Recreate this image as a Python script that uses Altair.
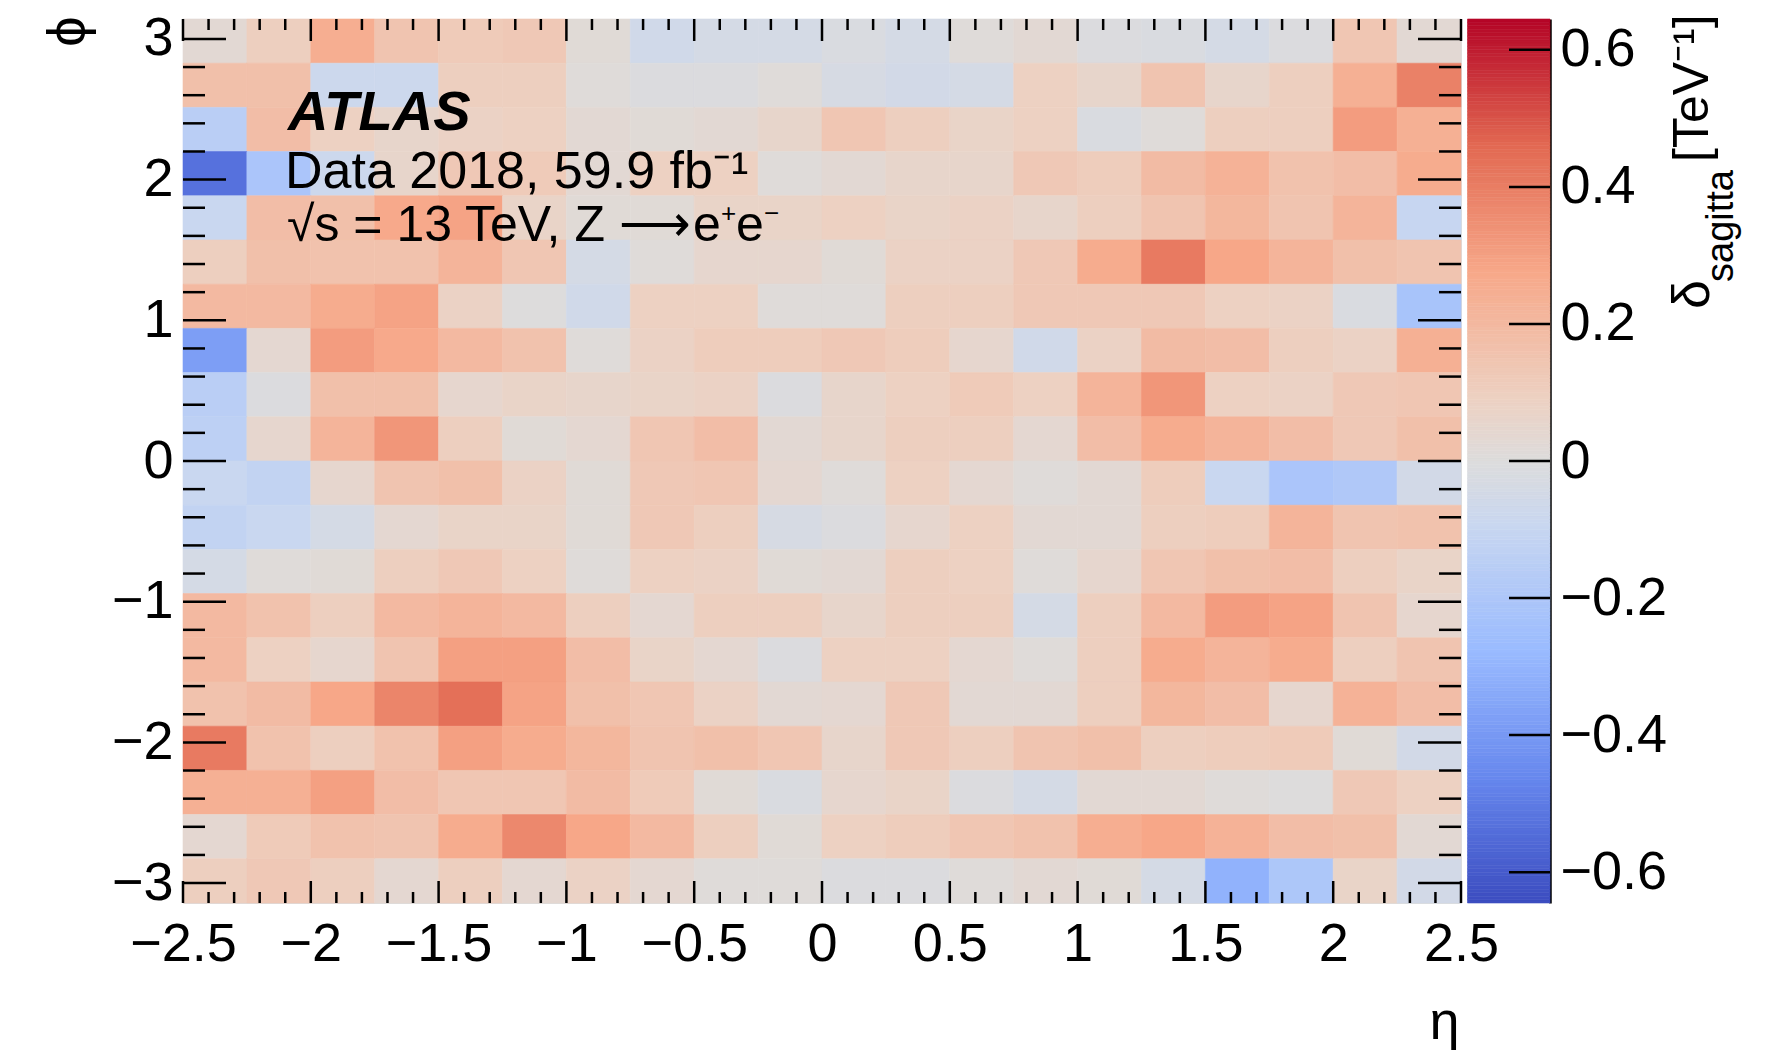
import altair as alt
import numpy as np
import pandas as pd

# ---------------- data ----------------
# eta bin edges (20 bins of 0.25) and phi bins (20 bins over [-pi, pi])
eta_edges = [-2.5, -2.25, -2.0, -1.75, -1.5, -1.25, -1.0, -0.75, -0.5, -0.25,
             0.0, 0.25, 0.5, 0.75, 1.0, 1.25, 1.5, 1.75, 2.0, 2.25, 2.5]
n_phi = 20

# delta_sagitta [TeV^-1]; rows listed from top (phi ~ +pi) to bottom (phi ~ -pi)
r00 = [0.03, 0.10, 0.25, 0.15, 0.12, 0.13, 0.02, -0.06, -0.04, -0.04, -0.02, -0.04, 0.01, 0.03, -0.01, -0.02, -0.04, -0.01, 0.14, 0.03]
r01 = [0.17, 0.17, -0.08, -0.08, 0.10, 0.10, 0.01, -0.01, -0.01, 0.01, -0.03, -0.05, -0.04, 0.09, 0.06, 0.15, 0.06, 0.10, 0.24, 0.39]
r02 = [-0.15, 0.18, 0.09, 0.06, 0.08, 0.09, 0.03, 0.02, 0.03, 0.06, 0.14, 0.10, 0.07, 0.09, -0.02, 0.01, 0.10, 0.10, 0.31, 0.24]
r03 = [-0.53, -0.21, -0.08, 0.06, 0.13, 0.12, 0.03, 0.09, 0.09, 0.01, 0.03, 0.06, 0.06, 0.13, 0.11, 0.19, 0.23, 0.16, 0.18, 0.26]
r04 = [-0.09, 0.18, 0.17, 0.27, 0.29, 0.07, 0.02, 0.02, 0.07, 0.07, 0.09, 0.07, 0.08, 0.06, 0.10, 0.15, 0.21, 0.15, 0.22, -0.10]
r05 = [0.10, 0.17, 0.16, 0.16, 0.22, 0.14, -0.04, 0.01, 0.05, 0.05, 0.02, 0.08, 0.08, 0.13, 0.26, 0.41, 0.28, 0.22, 0.17, 0.15]
r06 = [0.20, 0.20, 0.26, 0.29, 0.08, 0.00, -0.06, 0.09, 0.09, 0.01, 0.01, 0.10, 0.10, 0.13, 0.13, 0.13, 0.09, 0.08, -0.02, -0.22]
r07 = [-0.38, 0.04, 0.31, 0.27, 0.20, 0.16, 0.01, 0.08, 0.11, 0.11, 0.13, 0.11, 0.05, -0.06, 0.08, 0.19, 0.18, 0.10, 0.08, 0.24]
r08 = [-0.15, -0.01, 0.17, 0.17, 0.05, 0.07, 0.06, 0.07, 0.08, -0.01, 0.06, 0.09, 0.12, 0.09, 0.22, 0.33, 0.09, 0.08, 0.13, 0.14]
r09 = [-0.14, 0.05, 0.22, 0.33, 0.10, 0.02, 0.04, 0.14, 0.18, 0.03, 0.06, 0.10, 0.10, 0.04, 0.18, 0.26, 0.22, 0.18, 0.13, 0.17]
r10 = [-0.09, -0.12, 0.05, 0.15, 0.17, 0.08, 0.02, 0.13, 0.14, 0.04, 0.01, 0.09, 0.04, 0.01, 0.03, 0.11, -0.09, -0.21, -0.19, -0.05]
r11 = [-0.12, -0.09, -0.04, 0.04, 0.07, 0.07, 0.02, 0.13, 0.10, -0.03, -0.01, 0.05, 0.09, 0.03, 0.03, 0.10, 0.11, 0.22, 0.15, 0.16]
r12 = [-0.04, 0.01, 0.02, 0.10, 0.13, 0.09, 0.01, 0.09, 0.08, 0.02, 0.03, 0.10, 0.09, 0.01, 0.05, 0.14, 0.17, 0.18, 0.10, 0.07]
r13 = [0.20, 0.16, 0.10, 0.20, 0.22, 0.20, 0.10, 0.04, 0.10, 0.10, 0.06, 0.10, 0.10, -0.04, 0.10, 0.20, 0.31, 0.29, 0.15, 0.05]
r14 = [0.20, 0.09, 0.05, 0.15, 0.30, 0.30, 0.18, 0.07, 0.04, -0.01, 0.09, 0.09, 0.04, 0.01, 0.10, 0.26, 0.22, 0.26, 0.10, 0.15]
r15 = [0.16, 0.19, 0.28, 0.38, 0.44, 0.29, 0.17, 0.14, 0.08, 0.03, 0.04, 0.13, 0.03, 0.03, 0.10, 0.21, 0.18, 0.05, 0.23, 0.18]
r16 = [0.41, 0.16, 0.10, 0.16, 0.30, 0.26, 0.21, 0.15, 0.17, 0.14, 0.06, 0.13, 0.10, 0.15, 0.17, 0.10, 0.11, 0.12, 0.02, -0.05]
r17 = [0.24, 0.24, 0.30, 0.18, 0.14, 0.14, 0.19, 0.12, 0.02, -0.02, 0.05, 0.07, -0.01, -0.04, 0.03, 0.03, 0.01, 0.00, 0.13, 0.09]
r18 = [0.04, 0.12, 0.16, 0.15, 0.26, 0.37, 0.28, 0.20, 0.10, 0.02, 0.09, 0.11, 0.14, 0.16, 0.25, 0.28, 0.23, 0.18, 0.17, 0.03]
r19 = [0.10, 0.13, 0.10, 0.04, 0.10, 0.04, 0.08, 0.04, 0.01, 0.01, -0.01, -0.01, 0.01, 0.03, 0.02, -0.04, -0.31, -0.20, 0.07, -0.05]
rows_top_to_bottom = [r00, r01, r02, r03, r04, r05, r06, r07, r08, r09,
                      r10, r11, r12, r13, r14, r15, r16, r17, r18, r19]

# axis ticks / labels
eta_major = [-2.5, -2.0, -1.5, -1.0, -0.5, 0.0, 0.5, 1.0, 1.5, 2.0, 2.5]
eta_minor = [-2.4, -2.3, -2.2, -2.1, -1.9, -1.8, -1.7, -1.6, -1.4, -1.3, -1.2, -1.1,
             -0.9, -0.8, -0.7, -0.6, -0.4, -0.3, -0.2, -0.1, 0.1, 0.2, 0.3, 0.4,
             0.6, 0.7, 0.8, 0.9, 1.1, 1.2, 1.3, 1.4, 1.6, 1.7, 1.8, 1.9, 2.1, 2.2, 2.3, 2.4]
phi_major = [-3, -2, -1, 0, 1, 2, 3]
phi_minor = [-2.8, -2.6, -2.4, -2.2, -1.8, -1.6, -1.4, -1.2, -0.8, -0.6, -0.4, -0.2,
             0.2, 0.4, 0.6, 0.8, 1.2, 1.4, 1.6, 1.8, 2.2, 2.4, 2.6, 2.8]
cb_ticks = [-0.6, -0.4, -0.2, 0.0, 0.2, 0.4, 0.6]

# ---------------- table ----------------
phi_edges = [-np.pi + 2 * np.pi * k / n_phi for k in range(n_phi + 1)]
recs = []
for j, row in enumerate(rows_top_to_bottom):
    k = n_phi - 1 - j
    for i, v in enumerate(row):
        recs.append({"x0": eta_edges[i], "x1": eta_edges[i + 1],
                     "y0": phi_edges[k], "y1": phi_edges[k + 1], "v": v})
df = pd.DataFrame(recs)

# ---------------- styling ----------------
W, H = 1278, 884
FONT = "Liberation Sans"
zmin, zmax = -0.645, 0.645
cw_pos = [0.0, 0.143, 0.286, 0.429, 0.5, 0.571, 0.714, 0.857, 1.0]
cw_hex = ["#3b4cc0", "#6788ee", "#9abbff", "#c9d7f0", "#dddcdc",
          "#edd1c2", "#f7a889", "#e26952", "#b40426"]
cdomain = [zmin + (zmax - zmin) * p for p in cw_pos]
cscale = alt.Scale(domain=cdomain, range=cw_hex, interpolate="rgb")

xscale = alt.Scale(domain=[-2.5, 2.5], nice=False, zero=False)
yscale = alt.Scale(domain=[-np.pi, np.pi], nice=False, zero=False)

xaxis = alt.Axis(values=eta_major, format="~g", ticks=False, domain=False, grid=False,
                 labelFontSize=54, labelPadding=14, labelFlush=False, labelOverlap=False,
                 labelColor="black", labelFont=FONT,
                 title="η", titleX=W - 2, titleY=135, titleAlign="right",
                 titleBaseline="alphabetic", titleFontSize=54, titleFontWeight="normal",
                 titleColor="black", titleFont=FONT)
yaxis = alt.Axis(values=phi_major, format="~g", ticks=False, domain=False, grid=False,
                 labelFontSize=54, labelPadding=10, labelFlush=False, labelOverlap=False,
                 labelColor="black", labelFont=FONT,
                 title="ϕ", titleAngle=270, titleX=-115, titleY=12, titleAlign="center",
                 titleBaseline="middle", titleFontSize=54, titleFontWeight="normal",
                 titleColor="black", titleFont=FONT)

heat = alt.Chart(df).mark_rect(strokeWidth=0.6).encode(
    x=alt.X("x0:Q", scale=xscale, axis=xaxis),
    x2="x1:Q",
    y=alt.Y("y0:Q", scale=yscale, axis=yaxis),
    y2="y1:Q",
    color=alt.Color("v:Q", scale=cscale, legend=None),
    stroke=alt.Stroke("v:Q", scale=cscale, legend=None),
)

LW = 2.5


def xticks(vals, length, top):
    d = pd.DataFrame({"x0": vals})
    y0, y1 = (0, length) if top else (H, H - length)
    return alt.Chart(d).mark_rule(color="black", strokeWidth=LW).encode(
        x=alt.X("x0:Q", scale=xscale, axis=xaxis), y=alt.value(y0), y2=alt.value(y1))


def yticks(vals, length, right):
    d = pd.DataFrame({"y0": vals})
    x0, x1 = (W, W - length) if right else (0, length)
    return alt.Chart(d).mark_rule(color="black", strokeWidth=LW).encode(
        y=alt.Y("y0:Q", scale=yscale, axis=yaxis), x=alt.value(x0), x2=alt.value(x1))


def txt(s, x, y, size, **kw):
    return alt.Chart(pd.DataFrame({"s": [s]})).mark_text(
        align="left", baseline="alphabetic", fontSize=size, color="black", font=FONT, **kw
    ).encode(x=alt.value(x), y=alt.value(y), text="s:N")


tick_layers = [
    xticks(eta_major, 22, False), xticks(eta_minor, 11, False),
    xticks(eta_major, 22, True), xticks(eta_minor, 11, True),
    yticks(phi_major, 43, False), yticks(phi_minor, 22, False),
    yticks(phi_major, 43, True), yticks(phi_minor, 22, True),
]

labels = [
    txt("ATLAS", 105, 111, 56, fontStyle="italic", fontWeight="bold"),
    txt("Data 2018, 59.9 fb⁻¹", 102, 169, 52),
    txt("√s = 13 TeV, Z ⟶", 104, 222, 50),
    txt("e", 510, 222, 50),
    txt("+", 538, 203, 26),
    txt("e", 553, 222, 50),
    txt("−", 581, 203, 26),
]

main = alt.layer(heat, *tick_layers, *labels)

# ---------------- colour bar ----------------
CB_X0, CB_X1 = 1284.5, 1367
levels = np.linspace(zmin, zmax, 259)
cb_df = pd.DataFrame({"lo": levels[:-1], "hi": levels[1:],
                      "cv": 0.5 * (levels[:-1] + levels[1:])})
cbscale = alt.Scale(domain=[zmin, zmax], nice=False, zero=False)
cbaxis = alt.Axis(orient="right", offset=CB_X1 - W, values=cb_ticks, format="~g",
                  ticks=False, domain=True, domainColor="black", domainWidth=LW,
                  grid=False, labelFontSize=54, labelPadding=10, labelFlush=False,
                  labelOverlap=False, labelColor="black", labelFont=FONT, title=None)

cb_rect = alt.Chart(cb_df).mark_rect(strokeWidth=0.6).encode(
    x=alt.value(CB_X0), x2=alt.value(CB_X1),
    y=alt.Y("lo:Q", scale=cbscale, axis=cbaxis), y2="hi:Q",
    color=alt.Color("cv:Q", scale=cscale, legend=None),
    stroke=alt.Stroke("cv:Q", scale=cscale, legend=None),
)
cb_tk = alt.Chart(pd.DataFrame({"lo": cb_ticks})).mark_rule(color="black", strokeWidth=LW).encode(
    y=alt.Y("lo:Q", scale=cbscale, axis=cbaxis), x=alt.value(CB_X1 - 41), x2=alt.value(CB_X1))

cb_title = [
    txt("δ", 1526, 290, 52, angle=270),
    txt("sagitta", 1550, 263, 38, angle=270),
    txt("[TeV⁻¹]", 1525, 143, 50, angle=270),
]

cbar = alt.layer(cb_rect, cb_tk, *cb_title)

chart = alt.layer(main, cbar).resolve_scale(y="independent").properties(
    width=W, height=H,
    autosize=alt.AutoSizeParams(type="none"),
    padding={"left": 183, "top": 19, "right": 1773 - 183 - W, "bottom": 1054 - 19 - H},
).configure_view(stroke="black", strokeWidth=LW).configure(font=FONT, background="white")

chart.save("out.html", embed_options={"renderer": "svg", "actions": False})
